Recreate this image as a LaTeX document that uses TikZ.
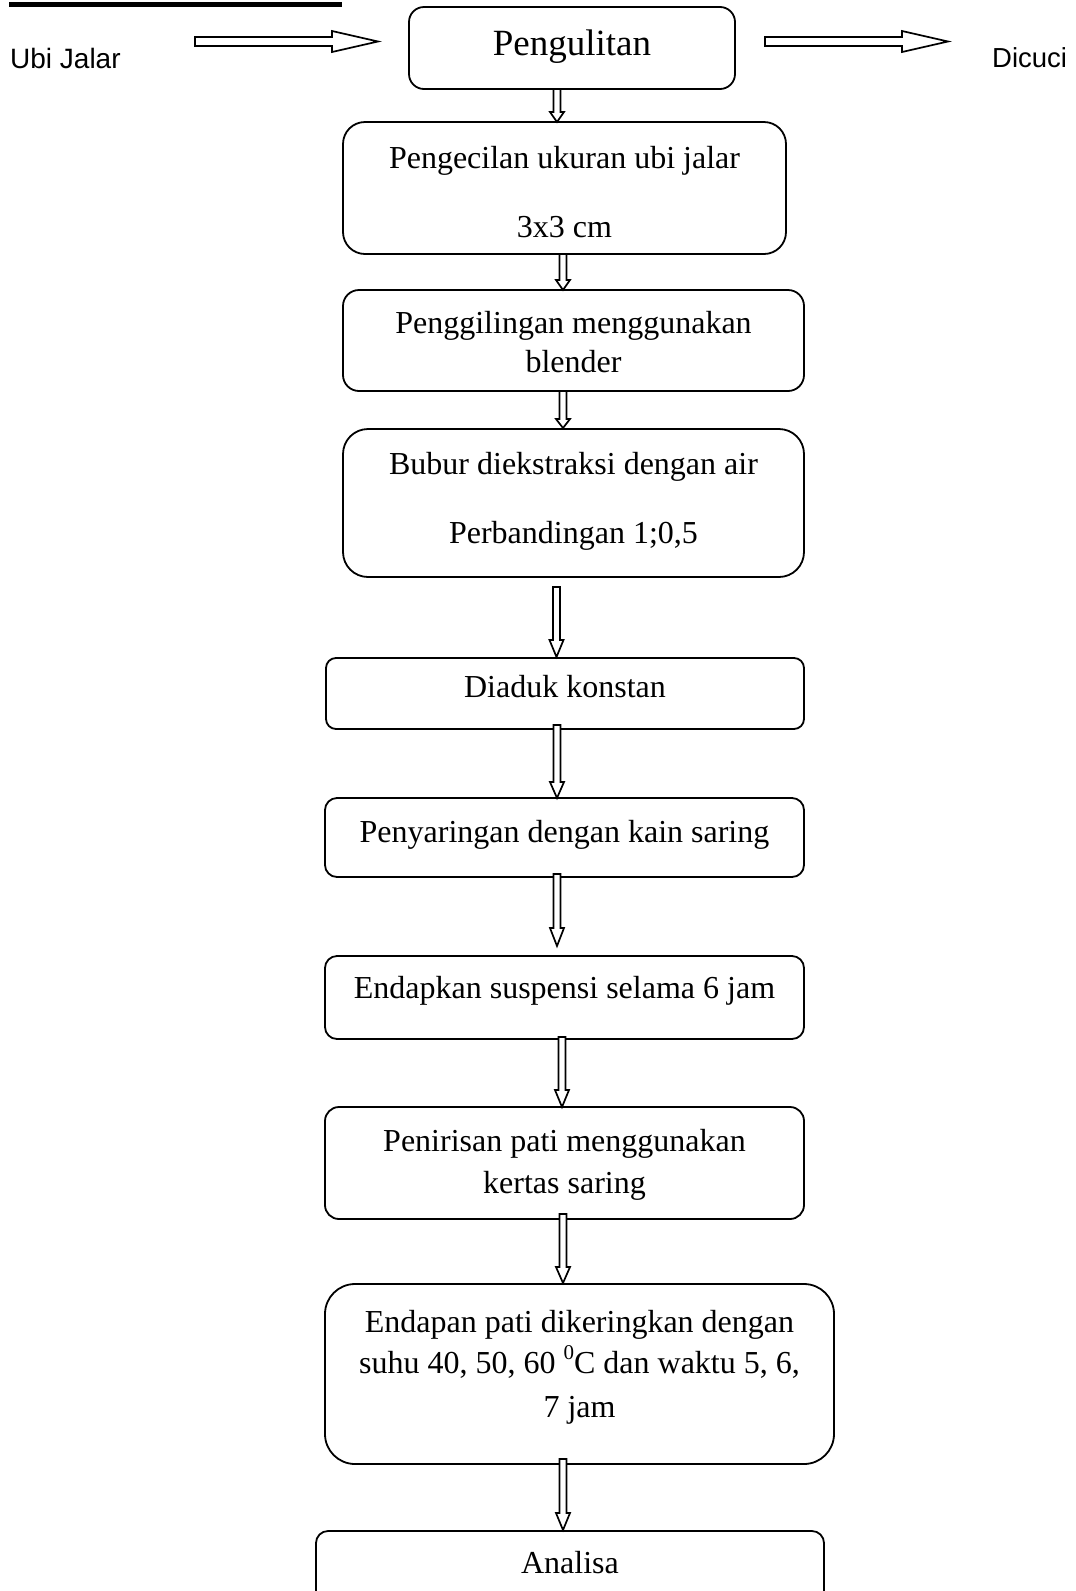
\documentclass[tikz,border=0pt]{standalone}
\usepackage{fontspec}
\setmainfont{Liberation Serif}
\newfontfamily\arialf{Liberation Sans}
\usetikzlibrary{calc}
\tikzset{
  procbox/.style={draw, line width=1.8pt, inner sep=0pt, outer sep=0pt, fill=white},
  txt/.style={inner sep=0pt, anchor=base, font=\fontsize{32}{38}\selectfont},
  bigtxt/.style={inner sep=0pt, anchor=base, font=\fontsize{37}{42}\selectfont},
  sanstxt/.style={inner sep=0pt, anchor=base west, font=\arialf\fontsize{28}{32}\selectfont},
  blkarrow/.style={draw, line width=1.7pt, fill=white, line join=miter}
}
\newcommand{\blkdown}[3]{%
  \draw[blkarrow] let \p1=(#1), \p2=(#2) in
    (\x1-3.5pt,\y1) -- (\x1-3.5pt,\y2+#3pt) -- (\x1-7pt,\y2+#3pt) -- (\x1,\y2)
    -- (\x1+7pt,\y2+#3pt) -- (\x1+3.5pt,\y2+#3pt) -- (\x1+3.5pt,\y1) -- cycle;}
\newcommand{\blkright}[2]{%
  \draw[blkarrow] let \p1=(#1), \p2=(#2) in
    (\x1,\y1+4.5pt) -- (\x2-46pt,\y1+4.5pt) -- (\x2-46pt,\y1+10.5pt) -- (\x2,\y1)
    -- (\x2-46pt,\y1-10.5pt) -- (\x2-46pt,\y1-4.5pt) -- (\x1,\y1-4.5pt) -- cycle;}
\begin{document}
\begin{tikzpicture}[x=1pt,y=-1pt]
\useasboundingbox (0,0) rectangle (1076,1591);
\clip (0,0) rectangle (1076,1591);
\fill[white] (0,0) rectangle (1076,1591);

% cut-off heading underline
\fill[black] (9,2) rectangle (342,6.5);

% boxes
\node[procbox, minimum width=326pt, minimum height=82pt, rounded corners=15pt] (b1) at (572,48) {};
\node[procbox, minimum width=443pt, minimum height=132pt, rounded corners=22pt] (b2) at (564.5,188) {};
\node[procbox, minimum width=461pt, minimum height=101pt, rounded corners=16pt] (b3) at (573.5,340.5) {};
\node[procbox, minimum width=461pt, minimum height=148pt, rounded corners=25pt] (b4) at (573.5,503) {};
\node[procbox, minimum width=478pt, minimum height=71pt, rounded corners=10pt] (b5) at (565,693.5) {};
\node[procbox, minimum width=479pt, minimum height=79pt, rounded corners=12pt] (b6) at (564.5,837.5) {};
\node[procbox, minimum width=479pt, minimum height=83pt, rounded corners=12pt] (b7) at (564.5,997.5) {};
\node[procbox, minimum width=479pt, minimum height=112pt, rounded corners=14pt] (b8) at (564.5,1163) {};
\node[procbox, minimum width=509pt, minimum height=180pt, rounded corners=30pt] (b9) at (579.5,1374) {};
\node[procbox, minimum width=508pt, minimum height=80pt, rounded corners=12pt] (b10) at (570,1571) {};

% texts
\node[bigtxt] (t1) at (572,55) {Pengulitan};
\node[txt] (t2a) at (564.5,168) {Pengecilan ukuran ubi jalar};
\node[txt] (t2b) at (564.5,237) {3x3 cm};
\node[txt] (t3a) at (573.5,333) {Penggilingan menggunakan};
\node[txt] (t3b) at (573.5,372) {blender};
\node[txt] (t4a) at (573.5,474) {Bubur diekstraksi dengan air};
\node[txt] (t4b) at (573.5,543) {Perbandingan 1;0,5};
\node[txt] (t5) at (565,697) {Diaduk konstan};
\node[txt] (t6) at (564.5,842) {Penyaringan dengan kain saring};
\node[txt] (t7) at (564.5,998) {Endapkan suspensi selama 6 jam};
\node[txt] (t8a) at (564.5,1151) {Penirisan pati menggunakan};
\node[txt] (t8b) at (564.5,1193) {kertas saring};
\node[txt] (t9a) at (579.5,1332) {Endapan pati dikeringkan dengan};
\node[txt] (t9b) at (579.5,1373) {suhu 40, 50, 60 \raisebox{0.42em}{\fontsize{21}{24}\selectfont 0}C dan waktu 5, 6,};
\node[txt] (t9c) at (579.5,1417) {7 jam};
\node[txt] (t10) at (570,1573) {Analisa};

\node[sanstxt] (ubi) at (10,68) {Ubi Jalar};
\node[sanstxt, font=\arialf\fontsize{27.5}{32}\selectfont] (dicuci) at (992,67) {Dicuci};

% horizontal block arrows
\blkright{$(b1.west)+(-214,-6.5)$}{$(b1.west)+(-31,-6.5)$}
\blkright{$(b1.east)+(30,-6.5)$}{$(b1.east)+(213,-6.5)$}

% vertical block arrows
\blkdown{$(b1.south)+(-15,0)$}{$(b2.north)+(0,0)$}{10}
\blkdown{$(b2.south)+(-1.5,0)$}{$(b3.north)+(0,0)$}{10}
\blkdown{$(b3.south)+(-10.5,0)$}{$(b4.north)+(0,-1)$}{9}
\blkdown{$(b4.south)+(-17,10)$}{$(b5.north)+(0,-1)$}{17}
\blkdown{$(b5.south)+(-8,-4)$}{$(b6.north)+(0,0)$}{16}
\blkdown{$(b6.south)+(-7.5,-3)$}{$(b7.north)+(0,-10)$}{18}
\blkdown{$(b7.south)+(-2.5,-2)$}{$(b8.north)+(0,0)$}{17}
\blkdown{$(b8.south)+(-1.5,-5)$}{$(b9.north)+(0,-1)$}{16}
\blkdown{$(b9.south)+(-16.5,-5)$}{$(b10.north)+(0,-1)$}{17}
\end{tikzpicture}
\end{document}
